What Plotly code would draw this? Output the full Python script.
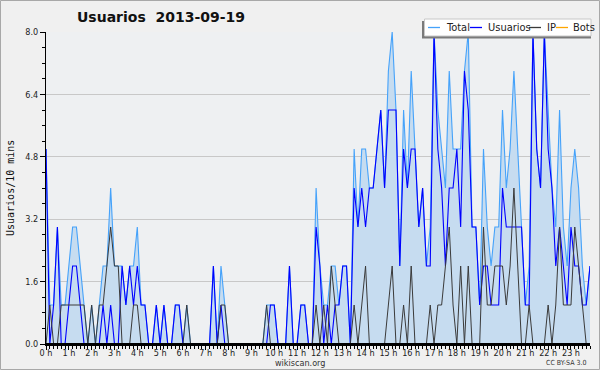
import plotly.graph_objects as go

# 10-minute slots over one day (144 slots)
slots = list(range(144))
hour_ticks = list(range(0, 144, 6))
hour_labels = [f"{h} h" for h in range(24)]

total = [5,1,1,3,1,1,2,3,3,2,1,0,1,0,1,2,2,4,2,2,2,1,2,2,
         3,1,1,0,0,1,0,1,0,0,1,1,0,1,0,0,0,0,0,0,2,0,2,1,
         0,0,0,0,0,0,0,0,0,0,1,1,1,0,0,0,2,0,0,1,1,0,0,4,
         2,1,1,2,2,1,2,2,0,5,3,5,5,4,4,5,6,4,7,8,6,2,6,4,
         7,5,3,4,2,3,8,6,5,4,7,5,5,5,7,8,3,3,1,5,3,2,3,3,
         6,4,5,7,5,3,1,2,8,5,4,8,6,4,3,6,3,2,4,5,4,2,1,2]
usuarios = [5,0,1,3,0,0,1,2,2,1,0,0,0,0,0,1,0,1,0,0,2,1,2,1,
            2,1,1,0,0,1,0,1,0,0,1,1,0,0,0,0,0,0,0,0,2,0,1,0,
            0,0,0,0,0,0,0,0,0,0,0,1,1,0,0,0,2,0,0,1,1,0,0,3,
            2,0,1,0,1,1,2,2,0,4,3,4,3,4,4,5,6,4,6,6,6,2,5,4,
            5,5,3,4,2,2,8,5,4,2,4,4,5,3,7,6,3,3,1,2,2,1,1,1,
            4,3,3,3,3,3,1,1,8,5,4,8,5,4,2,3,2,1,3,2,2,1,1,2]
ip = [0,1,0,0,1,1,1,1,1,1,1,0,1,0,1,1,2,3,2,2,0,0,0,1,
      1,0,0,0,0,0,0,0,0,0,0,0,0,1,0,0,0,0,0,0,0,0,1,1,
      0,0,0,0,0,0,0,0,0,0,1,0,0,0,0,0,0,0,0,0,0,0,0,1,
      0,1,0,2,1,0,0,0,0,1,0,1,2,0,0,0,0,0,1,2,0,0,1,0,
      2,0,0,0,0,1,0,1,1,2,3,1,0,2,0,2,0,0,0,3,1,1,2,2,
      2,1,2,4,2,0,0,1,0,0,0,0,1,0,1,3,1,1,1,3,2,1,0,0]
bots = [0] * 144

W, H = 600, 370
L, R, T, B = 46, 10, 32, 26
pw, ph = W - L - R, H - T - B

def px(x):
    return (x - L) / pw

def py(y):
    return (H - B - y) / ph

FONT = "DejaVu Sans Condensed, DejaVu Sans, sans-serif"

fig = go.Figure()
fig.add_trace(go.Scatter(x=slots, y=total, name="Total", mode="lines",
                         line=dict(color="#45a2fa", width=1.1),
                         fill="tozeroy", fillcolor="#c6dcf0"))
fig.add_trace(go.Scatter(x=slots, y=usuarios, name="Usuarios", mode="lines",
                         line=dict(color="#0000ff", width=1.1)))
fig.add_trace(go.Scatter(x=slots, y=ip, name="IP", mode="lines",
                         line=dict(color="#3a3a3a", width=1.0)))
fig.add_trace(go.Scatter(x=slots, y=bots, name="Bots", mode="lines",
                         line=dict(color="#ffa500", width=1.0)))

shapes = []
# baseline drawn over the (all-zero) Bots line
shapes.append(dict(type="line", xref="x", yref="y", x0=0, x1=143, y0=0, y1=0,
                   line=dict(color="#000", width=2), layer="above"))
# outer frame
shapes.append(dict(type="rect", xref="paper", yref="paper",
                   x0=px(0.5), x1=px(W - 0.5), y0=py(H - 0.5), y1=py(0.5),
                   line=dict(color="#a8a8a8", width=1), fillcolor="rgba(0,0,0,0)", layer="above"))
# legend shadow + box
shapes.append(dict(type="rect", xref="paper", yref="paper",
                   x0=px(422), x1=px(591), y0=py(38.5), y1=py(21),
                   line=dict(width=0), fillcolor="#7a7a7a", layer="above"))
shapes.append(dict(type="rect", xref="paper", yref="paper",
                   x0=px(424.5), x1=px(591), y0=py(36), y1=py(19),
                   line=dict(color="#c8c8c8", width=1), fillcolor="#ffffff", layer="above"))

annotations = []
legend_items = [("Total", "#45a2fa", 428, 444), ("Usuarios", "#0000ff", 470, 486),
                ("IP", "#3a3a3a", 529, 545), ("Bots", "#ffa500", 556, 571)]
ly = 27.5
for name, col, lx, tx in legend_items:
    shapes.append(dict(type="line", xref="paper", yref="paper",
                       x0=px(lx), x1=px(lx + 12), y0=py(ly), y1=py(ly),
                       line=dict(color=col, width=1.3), layer="above"))
    annotations.append(dict(text=name, xref="paper", yref="paper", x=px(tx), y=py(ly),
                            xanchor="left", yanchor="middle", showarrow=False,
                            font=dict(family=FONT, size=11, color="#222")))

annotations.append(dict(text="<b>Usuarios\u00a0\u00a02013-09-19</b>", xref="paper", yref="paper",
                        x=px(75), y=py(17), xanchor="left", yanchor="middle", showarrow=False,
                        font=dict(family="DejaVu Sans, sans-serif", size=14, color="#111")))
annotations.append(dict(text="wikiscan.org", xref="paper", yref="paper",
                        x=px(300), y=py(362.5), xanchor="center", yanchor="middle", showarrow=False,
                        font=dict(family=FONT, size=9, color="#333")))
annotations.append(dict(text="CC BY-SA 3.0", xref="paper", yref="paper",
                        x=px(588), y=py(362.5), xanchor="right", yanchor="middle", showarrow=False,
                        font=dict(family=FONT, size=7, color="#333")))
annotations.append(dict(text="Usuarios/10 mins", xref="paper", yref="paper",
                        x=px(10), y=py(188), xanchor="center", yanchor="middle", showarrow=False,
                        textangle=-90,
                        font=dict(family="DejaVu Sans Mono, monospace", size=10, color="#111")))

fig.update_layout(
    width=W, height=H, autosize=False,
    margin=dict(l=L, r=R, t=T, b=B, pad=0),
    paper_bgcolor="#f0f0f0", plot_bgcolor="#eef0f2",
    showlegend=False,
    shapes=shapes, annotations=annotations,
    font=dict(family=FONT, size=9, color="#222"),
    xaxis=dict(range=[0, 143], tickmode="array", tickvals=hour_ticks, ticktext=hour_labels,
               automargin=False, ticklabelstandoff=-5,
               ticks="outside", ticklen=4, tickcolor="#000", showgrid=False, zeroline=False,
               showline=True, linecolor="#000", linewidth=1.5,
               minor=dict(tickmode="linear", tick0=0, dtick=1, ticks="outside", ticklen=3,
                          tickcolor="#000", showgrid=False),
               tickfont=dict(family=FONT, size=9, color="#222")),
    yaxis=dict(range=[0, 8], tickmode="linear", tick0=0, dtick=1.6, tickformat=".1f",
               automargin=False,
               ticks="outside", ticklen=5, tickcolor="#000", showgrid=True, gridcolor="#c8c8c8",
               gridwidth=1, zeroline=False, showline=True, linecolor="#000", linewidth=1,
               minor=dict(tickmode="linear", tick0=0, dtick=0.4, ticks="outside", ticklen=3,
                          tickcolor="#000", showgrid=False),
               tickfont=dict(family=FONT, size=9, color="#222")),
)

fig.write_html("out.html", config={"displayModeBar": False},
               post_script="document.body.style.margin='0';document.body.style.overflow='hidden';")
